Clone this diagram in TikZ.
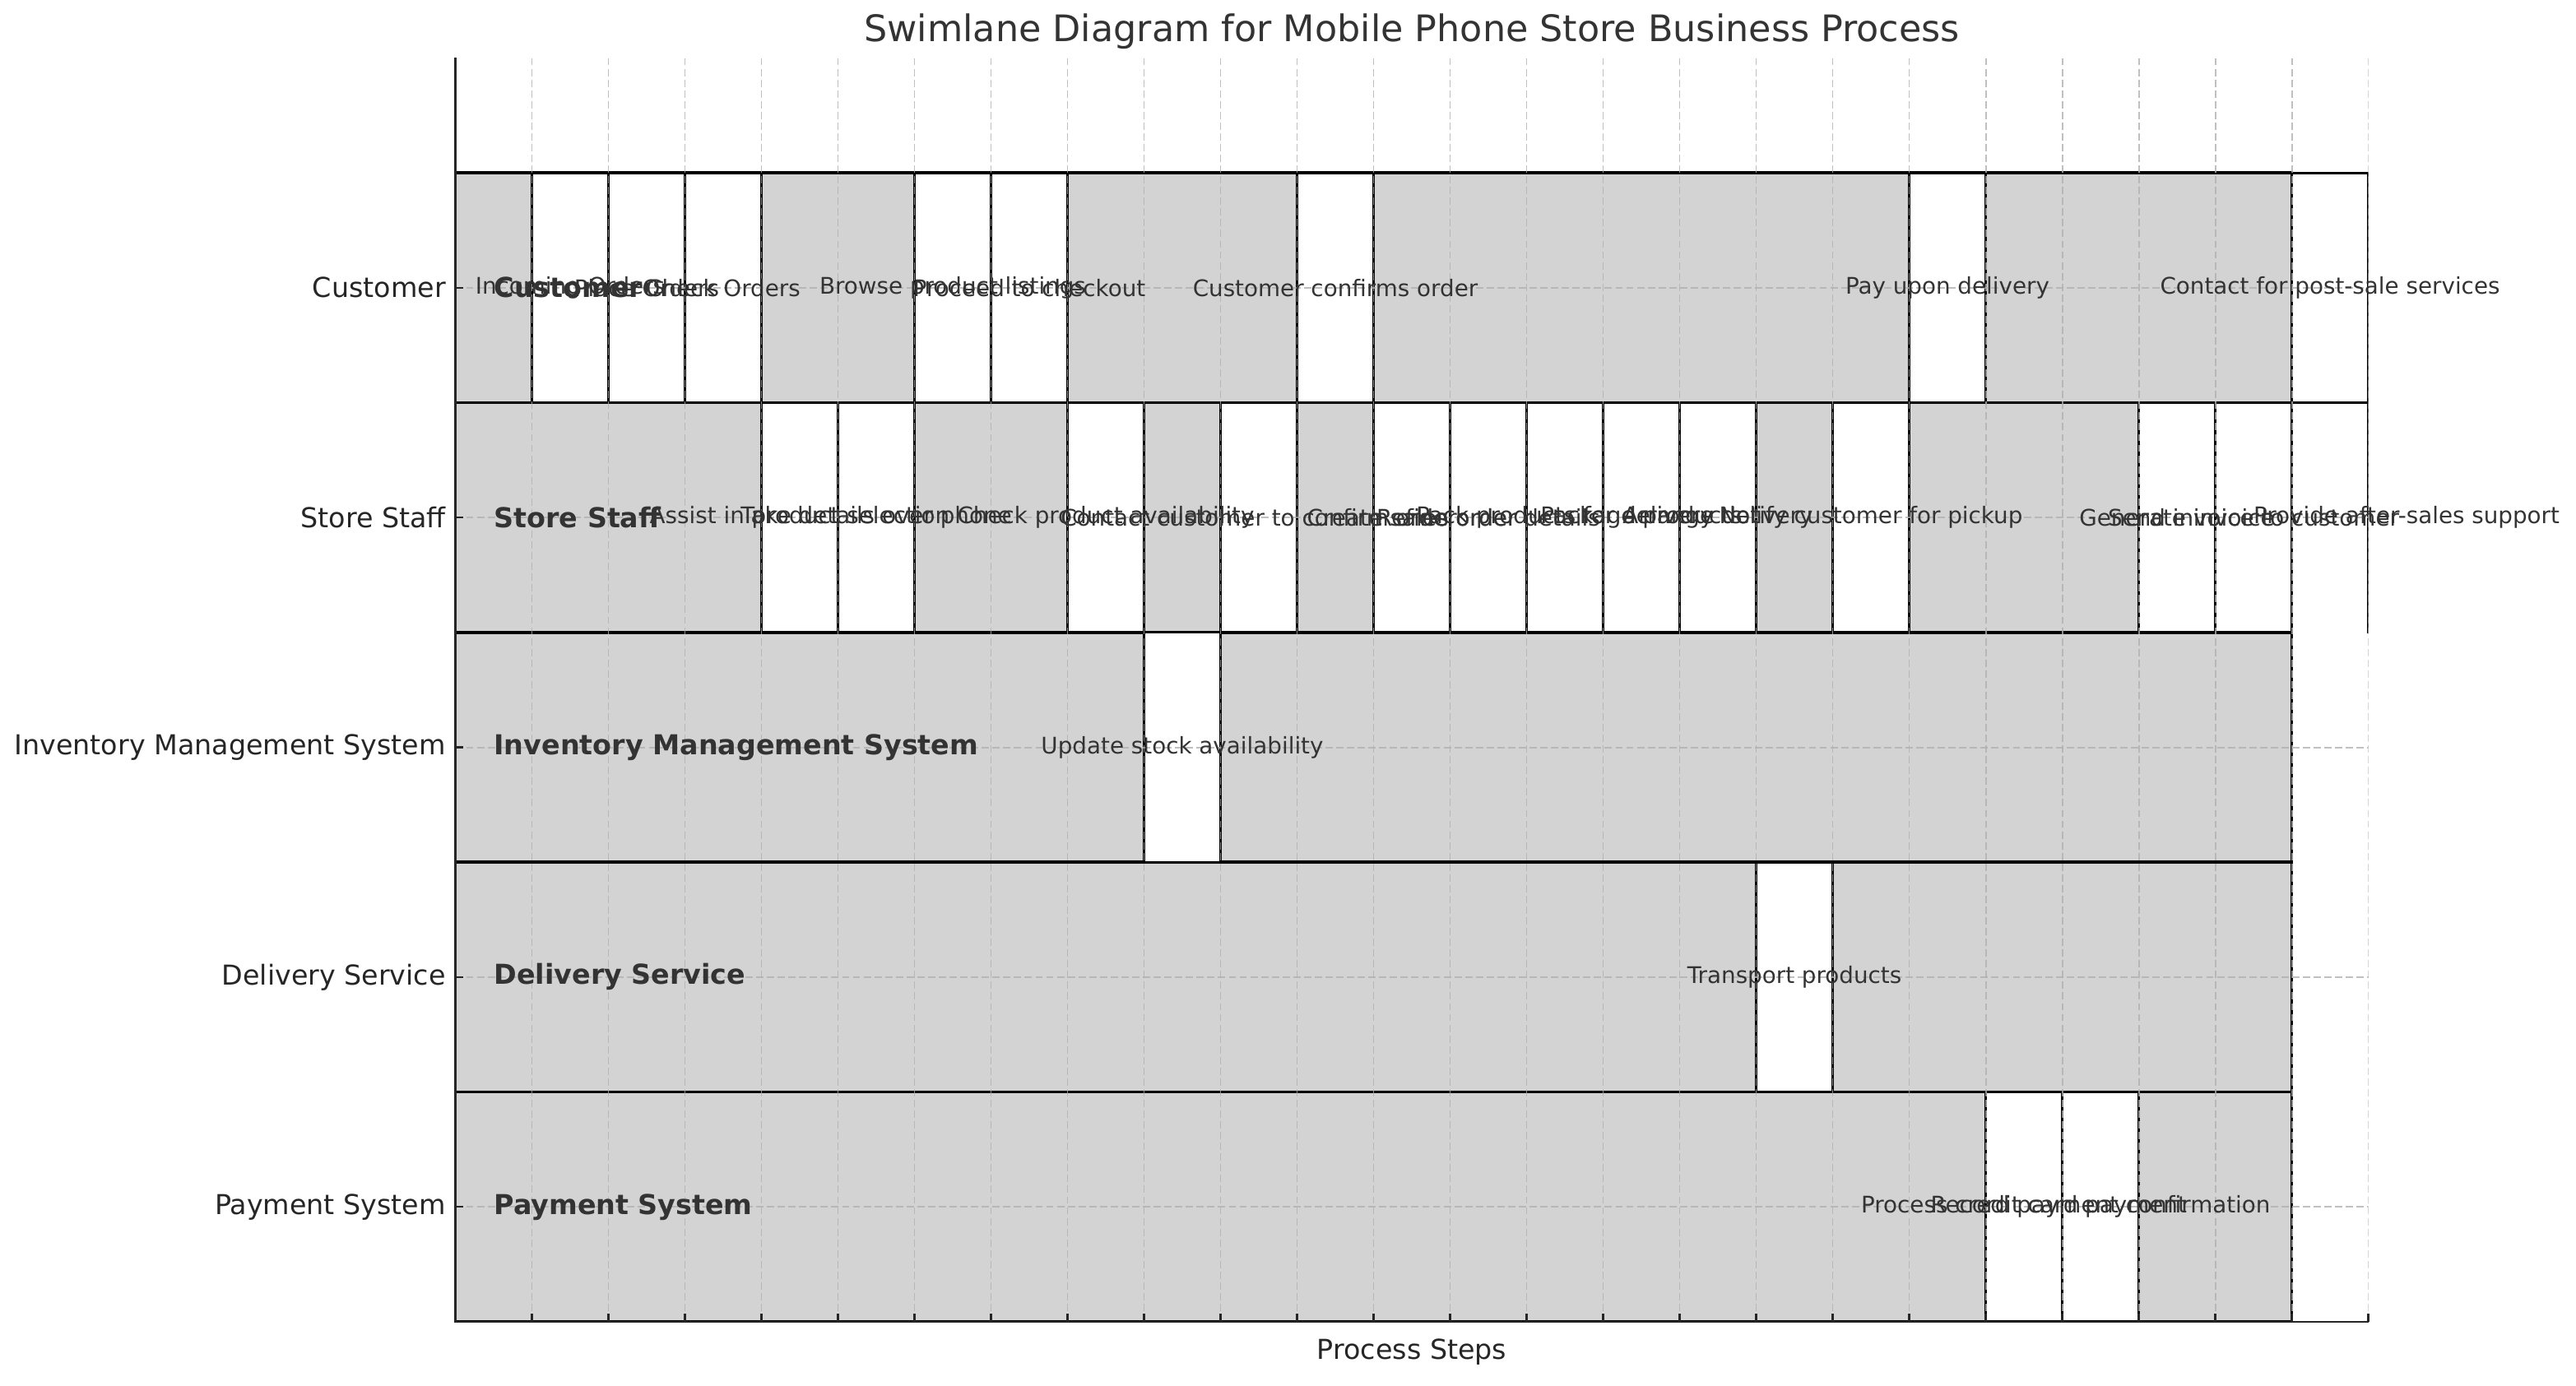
\documentclass[tikz,border=0pt]{standalone}
\usepackage{fontspec}
\setmainfont{DejaVu Sans}
\definecolor{lanegray}{HTML}{D3D3D3}
\definecolor{txt}{HTML}{333333}
\definecolor{gridc}{HTML}{B0B0B0}
\definecolor{axc}{HTML}{262626}
\tikzset{
  lanebox/.style={fill=lanegray, draw=black, line width=1.3pt},
  taskbox/.style={fill=white, draw=black, line width=1.1pt},
  gridline/.style={draw=gridc, line width=0.7pt, opacity=0.8, dash pattern=on 3.2pt off 1.5pt},
  tasktext/.style={text=txt, inner sep=0pt, font=\fontsize{10}{12}\selectfont},
  lanelabel/.style={text=txt, inner sep=0pt, anchor=west, font=\fontsize{12}{14}\selectfont\bfseries},
  ticklabel/.style={text=axc, inner sep=0pt, anchor=east, font=\fontsize{12}{14}\selectfont},
  spine/.style={draw=axc, line width=1pt},
  tickmark/.style={draw=axc, line width=0.8pt}
}
\begin{document}
\begin{tikzpicture}
\path[use as bounding box] (0,0) rectangle (1127.16pt,606.24pt);
\node[text=txt, font=\fontsize{16}{19}\selectfont] (title) at (617.8pt,592.6pt) {Swimlane Diagram for Mobile Phone Store Business Process};
\node[text=axc, font=\fontsize{12}{14}\selectfont] (xlabel) at (617.8pt,14.4pt) {Process Steps};
\begin{scope}[shift={(199.26pt,78.01pt)}, x=33.48pt, y=100.58pt]
  \begin{scope}
    \clip (0,-0.5) rectangle (25,5);
    % lanes
    \foreach \l in {0,...,4} \draw[lanebox] (0,\l-0.5) rectangle (24,\l+0.5);
    % task boxes
    \foreach \c/\l in {1/4,2/4,3/4,4/3,5/3,6/4,7/4,8/3,9/2,10/3,11/4,12/3,13/3,14/3,15/3,16/3,17/1,18/3,19/4,20/0,21/0,22/3,23/3,24/4,25/3}
      \draw[taskbox] (\c,\l-0.5) rectangle ++(1,1);
    % grid
    \foreach \c in {0,...,25} \draw[gridline] (\c,-0.5) -- (\c,5);
    \foreach \l in {0,...,4} \draw[gridline] (0,\l) -- (25,\l);
  \end{scope}
  % spines
  \draw[spine] (0,5) -- (0,-0.5) -- (25,-0.5);
  \foreach \c in {1,...,25} \draw[tickmark] (\c,-0.5) -- ++(0,3.5pt);
  \foreach \l in {0,...,4} \draw[tickmark] (0,\l) -- ++(3.5pt,0);
  % y tick labels
  \node[ticklabel] (yl4) at ([xshift=-4pt]0,4) {Customer};
  \node[ticklabel] (yl3) at ([xshift=-4pt]0,3) {Store Staff};
  \node[ticklabel] (yl2) at ([xshift=-4pt]0,2) {Inventory Management System};
  \node[ticklabel] (yl1) at ([xshift=-4pt]0,1) {Delivery Service};
  \node[ticklabel] (yl0) at ([xshift=-4pt]0,0) {Payment System};
  % task texts
  \foreach \c/\l/\t in {
    1/4/Incoming Orders, 2/4/Place Orders, 3/4/Check Orders,
    4/3/Assist in product selection, 5/3/Take details over phone,
    6/4/Browse product listings, 7/4/Proceed to checkout,
    8/3/Check product availability, 9/2/Update stock availability,
    10/3/Contact customer to confirm order, 11/4/Customer confirms order,
    12/3/Create sales order, 13/3/Refine order details,
    14/3/Pack products for delivery, 15/3/Package products,
    16/3/Arrange delivery, 17/1/Transport products,
    18/3/Notify customer for pickup, 19/4/Pay upon delivery,
    20/0/Process credit card payment, 21/0/Record payment confirmation,
    22/3/Generate invoice, 23/3/Send invoice to customer,
    24/4/Contact for post-sale services, 25/3/Provide after-sales support}
    \node[tasktext] (task\c) at (\c+0.5,\l) {\t};
  % lane labels
  \node[lanelabel] (lane4) at (0.5,4) {Customer};
  \node[lanelabel] (lane3) at (0.5,3) {Store Staff};
  \node[lanelabel] (lane2) at (0.5,2) {Inventory Management System};
  \node[lanelabel] (lane1) at (0.5,1) {Delivery Service};
  \node[lanelabel] (lane0) at (0.5,0) {Payment System};
\end{scope}
\end{tikzpicture}
\end{document}
